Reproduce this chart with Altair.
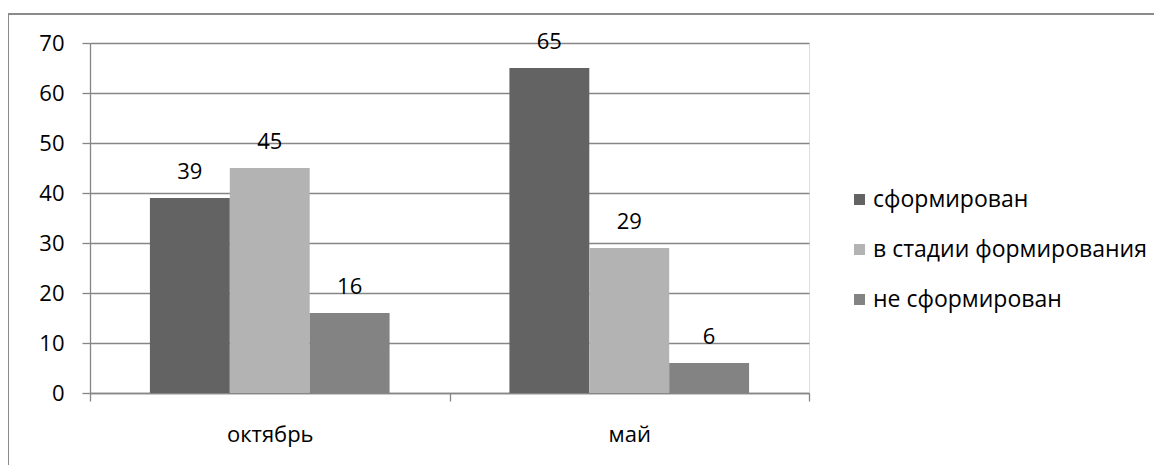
import altair as alt
import pandas as pd

categories = ["октябрь", "май"]
series = ["сформирован", "в стадии формирования", "не сформирован"]
october = [39, 45, 16]
may = [65, 29, 6]
colors = ["#636363", "#b3b3b3", "#838383"]
y_ticks = [0, 10, 20, 30, 40, 50, 60, 70]

rows = []
for cat, vals in zip(categories, [october, may]):
    for s, v in zip(series, vals):
        rows.append({"period": cat, "series": s, "value": v})
df = pd.DataFrame(rows)

FONT = "Open Sans"
FS = 22
LFS = 23
GRID = "#868686"

base = alt.Chart(df).encode(
    x=alt.X(
        "period:N",
        sort=categories,
        scale=alt.Scale(paddingInner=0, paddingOuter=0),
        axis=alt.Axis(
            title=None, labelAngle=0, tickBand="extent", tickSize=8,
            tickColor=GRID, domainColor=GRID, domainWidth=1.3, tickWidth=1.3,
            labelPadding=23, labelFontSize=FS, labelFont=FONT, labelColor="#000000",
            grid=False,
        ),
    ),
    xOffset=alt.XOffset("series:N", sort=series,
                        scale=alt.Scale(domain=series, paddingInner=0, paddingOuter=0.75)),
    y=alt.Y(
        "value:Q",
        scale=alt.Scale(domain=[0, 70], nice=False),
        axis=alt.Axis(
            title=None, values=y_ticks, grid=True, gridColor=GRID, gridWidth=1.3,
            domainColor=GRID, domainWidth=1.3, tickColor=GRID, tickWidth=1.3, tickSize=8,
            labelPadding=18, labelFontSize=FS, labelFont=FONT, labelColor="#000000",
        ),
    ),
)

bars = base.mark_bar().encode(
    color=alt.Color(
        "series:N", sort=series,
        scale=alt.Scale(domain=series, range=colors),
        legend=alt.Legend(
            title=None, orient="none", legendX=758, legendY=145,
            symbolType="square", symbolSize=120, symbolStrokeWidth=0,
            labelFontSize=LFS, labelFont=FONT, labelColor="#000000",
            labelOffset=2, rowPadding=26, padding=0, labelLimit=400,
        ),
    )
)

labels = base.mark_text(dy=-19, baseline="alphabetic", fontSize=FS, font=FONT, color="#000000").encode(
    text="value:Q"
)

frame_df = pd.DataFrame({"k": [0]})
frame_top = alt.Chart(frame_df).mark_rule(color="#8a8a8a", strokeWidth=2).encode(
    x=alt.value(-82), x2=alt.value(1080), y=alt.value(-29)
)
frame_left = alt.Chart(frame_df).mark_rule(color="#8a8a8a", strokeWidth=2).encode(
    x=alt.value(-82), y=alt.value(-29), y2=alt.value(440)
)

chart = alt.layer(bars, labels, frame_top, frame_left).properties(
    width=719, height=350,
    autosize=alt.AutoSizeParams(type="none"),
    padding={"left": 82, "top": 35, "right": 345, "bottom": 72},
).configure_view(stroke=None).configure(background="#ffffff")

chart.save("out.html", embed_options={"renderer": "svg", "actions": False})
